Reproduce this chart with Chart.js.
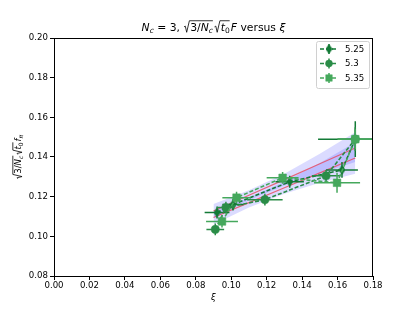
<!DOCTYPE html>
<html><head><meta charset="utf-8">
<script src="https://cdn.jsdelivr.net/npm/chart.js@4/dist/chart.umd.min.js"></script>
<style>html,body{margin:0;padding:0;background:#fff}#wrap{width:415px;height:311px}</style>
</head><body><div id="wrap"><canvas id="c" width="415" height="311"></canvas></div>
<script>
// ---- data ----
const seriesLabels = ['5.25', '5.3', '5.35'];
const x525  = [0.092, 0.101, 0.133, 0.1625, 0.170];
const y525  = [0.112, 0.116, 0.1275, 0.1335, 0.149];
const xe525 = [0.007, 0.006, 0.008, 0.009, 0.021];
const ye525 = [0.003, 0.003, 0.003, 0.004, 0.009];

const x53  = [0.091, 0.097, 0.119, 0.1535, 0.170];
const y53  = [0.1035, 0.1145, 0.1185, 0.1305, 0.149];
const xe53 = [0.005, 0.005, 0.010, 0.008, 0.010];
const ye53 = [0.003, 0.003, 0.003, 0.003, 0.006];

const x535  = [0.0948, 0.103, 0.129, 0.1597, 0.170];
const y535  = [0.1075, 0.1195, 0.1295, 0.127, 0.149];
const xe535 = [0.009, 0.008, 0.009, 0.013, 0.010];
const ye535 = [0.003, 0.003, 0.003, 0.005, 0.005];

const fitX    = [0.090, 0.110, 0.130, 0.150, 0.170];
const fit1Y   = [0.1128, 0.1207, 0.1286, 0.1366, 0.1445];
const fit1Lo  = [0.1093, 0.1182, 0.1256, 0.1316, 0.1375];
const fit1Hi  = [0.1163, 0.1232, 0.1316, 0.1416, 0.1525];
const fit2Y   = [0.1095, 0.1170, 0.1245, 0.1320, 0.1395];
const fit2Lo  = [0.1060, 0.1145, 0.1215, 0.1270, 0.1315];
const fit2Hi  = [0.1130, 0.1195, 0.1275, 0.1370, 0.1475];

const xTicks = [0.00, 0.02, 0.04, 0.06, 0.08, 0.10, 0.12, 0.14, 0.16, 0.18];
const yTicks = [0.08, 0.10, 0.12, 0.14, 0.16, 0.18, 0.20];

// ---- styles ----
const colors = ['#137a36', '#2a8c47', '#45a85c'];
const FONT = '"DejaVu Sans", sans-serif';

function thinDiamond(color, w, h) {
  const c = document.createElement('canvas');
  c.width = w; c.height = h;
  const g = c.getContext('2d');
  g.fillStyle = color;
  g.beginPath();
  g.moveTo(w / 2, 0); g.lineTo(w, h / 2); g.lineTo(w / 2, h); g.lineTo(0, h / 2);
  g.closePath(); g.fill();
  return c;
}
const diamondImg = thinDiamond(colors[0], 7, 10);
const styles = [diamondImg, 'circle', 'rect'];
const radii  = [5, 4.1, 5.4];

function pts(xs, ys) { return xs.map((x, i) => ({x: x, y: ys[i]})); }

const seriesX = [x525, x53, x535], seriesY = [y525, y53, y535];
const seriesXE = [xe525, xe53, xe535], seriesYE = [ye525, ye53, ye535];

const datasets = [];
for (let k = 0; k < 3; k++) {
  datasets.push({
    type: 'line', label: seriesLabels[k], data: pts(seriesX[k], seriesY[k]),
    borderColor: colors[k], backgroundColor: colors[k], borderWidth: 1.6,
    borderDash: [4, 2], pointStyle: styles[k], pointRadius: radii[k],
    pointBorderColor: colors[k], pointBackgroundColor: colors[k], pointBorderWidth: 0.5,
    fill: false, order: 3 - k, errX: seriesXE[k], errY: seriesYE[k], tension: 0
  });
}
const band = 'rgba(0,0,255,0.14)', red = 'rgba(232,70,90,0.8)';
const bandBase = {type:'line', borderWidth:0, borderColor:'transparent', pointRadius:0, order:20};
datasets.push(Object.assign({}, bandBase, {data: pts(fitX, fit1Lo), fill:false}));
datasets.push(Object.assign({}, bandBase, {data: pts(fitX, fit1Hi), fill:'-1', backgroundColor: band}));
datasets.push(Object.assign({}, bandBase, {data: pts(fitX, fit2Lo), fill:false}));
datasets.push(Object.assign({}, bandBase, {data: pts(fitX, fit2Hi), fill:'-1', backgroundColor: band}));
datasets.push({type:'line', data: pts(fitX, fit1Y), borderColor: red, borderWidth:1.2, pointRadius:0, fill:false, order:15});
datasets.push({type:'line', data: pts(fitX, fit2Y), borderColor: red, borderWidth:1.2, pointRadius:0, fill:false, order:15});

// rich text (mathtext-like)
function drawRich(ctx, segs, x, y, size, align) {
  let w = 0; const items = [];
  for (const s of segs) {
    if (s.sq === 'open') { items.push({type:'open', x:w}); w += size * 0.62; }
    else if (s.sq === 'close') { items.push({type:'close', x:w}); w += size * 0.1; }
    else {
      const fs = s.sub ? size * 0.7 : size;
      const font = (s.it ? 'italic ' : '') + fs + 'px ' + FONT;
      ctx.font = font;
      const tw = ctx.measureText(s.t).width;
      items.push({type:'t', x:w, font:font, t:s.t, dy: s.sub ? size * 0.2 : 0});
      w += tw;
    }
  }
  const x0 = align === 'center' ? x - w / 2 : x;
  const stack = [];
  ctx.fillStyle = '#000'; ctx.strokeStyle = '#000'; ctx.textBaseline = 'alphabetic'; ctx.textAlign = 'left';
  for (const it of items) {
    if (it.type === 't') { ctx.font = it.font; ctx.fillText(it.t, x0 + it.x, y + it.dy); }
    else if (it.type === 'open') stack.push(it.x);
    else {
      const ox = x0 + stack.pop();
      ctx.lineWidth = 0.8;
      ctx.beginPath();
      ctx.moveTo(ox + 0.05 * size, y - 0.38 * size);
      ctx.lineTo(ox + 0.17 * size, y - 0.45 * size);
      ctx.lineTo(ox + 0.3 * size, y + 0.12 * size);
      ctx.lineTo(ox + 0.55 * size, y - 0.95 * size);
      ctx.lineTo(x0 + it.x, y - 0.95 * size);
      ctx.stroke();
    }
  }
}

const titleSegs = [
  {t:'N', it:true}, {t:'c', it:true, sub:true}, {t:' = 3, '},
  {sq:'open'}, {t:'3/'}, {t:'N', it:true}, {t:'c', it:true, sub:true}, {sq:'close'},
  {sq:'open'}, {t:'t', it:true}, {t:'0', sub:true}, {sq:'close'},
  {t:'F', it:true}, {t:' versus '}, {t:'ξ', it:true}
];
const ylabSegs = [
  {sq:'open'}, {t:'3/'}, {t:'N', it:true}, {t:'c', it:true, sub:true}, {sq:'close'},
  {sq:'open'}, {t:'t', it:true}, {t:'0', sub:true}, {sq:'close'},
  {t:'f', it:true}, {t:'π', it:true, sub:true}
];

const clamp = (v, lo, hi) => Math.max(lo, Math.min(hi, v));

const deco = {
  id: 'deco',
  beforeDatasetDraw(chart, args) {
    const ds = chart.data.datasets[args.index];
    if (!ds.errX) return;
    const ctx = chart.ctx, xs = chart.scales.x, ys = chart.scales.y;
    const L = xs.left, R = xs.right, T = ys.top, B = ys.bottom;
    ctx.save();
    ctx.strokeStyle = ds.borderColor; ctx.lineWidth = 1.5; ctx.setLineDash([]);
    ds.data.forEach((p, i) => {
      const px = xs.getPixelForValue(p.x), py = ys.getPixelForValue(p.y);
      ctx.beginPath();
      ctx.moveTo(clamp(xs.getPixelForValue(p.x - ds.errX[i]), L, R), py);
      ctx.lineTo(clamp(xs.getPixelForValue(p.x + ds.errX[i]), L, R), py);
      ctx.moveTo(px, clamp(ys.getPixelForValue(p.y - ds.errY[i]), T, B));
      ctx.lineTo(px, clamp(ys.getPixelForValue(p.y + ds.errY[i]), T, B));
      ctx.stroke();
    });
    ctx.restore();
  },
  afterDraw(chart) {
    const ctx = chart.ctx, a = chart.chartArea;
    ctx.save();
    ctx.strokeStyle = '#000'; ctx.lineWidth = 1;
    ctx.strokeRect(Math.round(a.left) + 0.5, Math.round(a.top) + 0.5,
                   Math.round(a.right - a.left) - 1, Math.round(a.bottom - a.top));
    // title
    drawRich(ctx, titleSegs, (a.left + a.right) / 2, 31, 10.8, 'center');
    // x label
    ctx.font = 'italic 8.6px ' + FONT; ctx.fillStyle = '#000'; ctx.textAlign = 'center';
    ctx.fillText('ξ', (a.left + a.right) / 2, 300);
    // y label
    ctx.save();
    ctx.translate(21, (a.top + a.bottom) / 2);
    ctx.rotate(-Math.PI / 2);
    drawRich(ctx, ylabSegs, 0, 0, 8.6, 'center');
    ctx.restore();
    // legend
    const lx = 316, ly = 41, lw = 53, lh = 47;
    ctx.fillStyle = 'rgba(255,255,255,0.8)';
    ctx.strokeStyle = '#d0d0d0'; ctx.lineWidth = 1;
    ctx.beginPath();
    ctx.roundRect(lx + 0.5, ly + 0.5, lw, lh, 2);
    ctx.fill(); ctx.stroke();
    for (let k = 0; k < 3; k++) {
      const cy = ly + 8 + k * 14.5;
      ctx.strokeStyle = colors[k]; ctx.fillStyle = colors[k]; ctx.lineWidth = 1.6;
      ctx.setLineDash([4, 2]);
      ctx.beginPath(); ctx.moveTo(320, cy); ctx.lineTo(338, cy); ctx.stroke();
      ctx.setLineDash([]);
      ctx.lineWidth = 1.5;
      ctx.beginPath(); ctx.moveTo(329, cy - 5); ctx.lineTo(329, cy + 5); ctx.stroke();
      ctx.lineWidth = 0.5;
      Chart.helpers.drawPoint(ctx, {pointStyle: styles[k], radius: radii[k] * 0.85, rotation: 0, borderWidth: 0.5}, 329, cy);
      ctx.fillStyle = '#000'; ctx.font = '8.6px ' + FONT; ctx.textAlign = 'left'; ctx.textBaseline = 'middle';
      ctx.fillText(seriesLabels[k], 345, cy + 0.5);
    }
    ctx.restore();
  }
};

new Chart(document.getElementById('c'), {
  type: 'scatter',
  data: { datasets: datasets },
  options: {
    responsive: false, animation: false,
    layout: { padding: { left: 0, right: 42, top: 38, bottom: 0 } },
    plugins: { legend: { display: false }, tooltip: { enabled: false }, title: { display: false } },
    scales: {
      x: {
        type: 'linear', min: 0, max: 0.18,
        afterFit: s => { s.height = 35; },
        afterBuildTicks: s => { s.ticks = xTicks.map(v => ({value: v})); },
        ticks: { color: '#000', font: { size: 8.6, family: FONT }, padding: 1, maxRotation: 0,
                 callback: v => Number(v).toFixed(2) },
        grid: { drawOnChartArea: false, drawTicks: true, tickLength: 4, color: '#000' },
        border: { display: false }
      },
      y: {
        type: 'linear', min: 0.08, max: 0.20,
        afterFit: s => { s.width = 54; },
        afterBuildTicks: s => { s.ticks = yTicks.map(v => ({value: v})); },
        ticks: { color: '#000', font: { size: 8.6, family: FONT }, padding: 2,
                 callback: v => Number(v).toFixed(2) },
        grid: { drawOnChartArea: false, drawTicks: true, tickLength: 4, color: '#000' },
        border: { display: false }
      }
    }
  },
  plugins: [deco]
});
</script>
</body></html>
